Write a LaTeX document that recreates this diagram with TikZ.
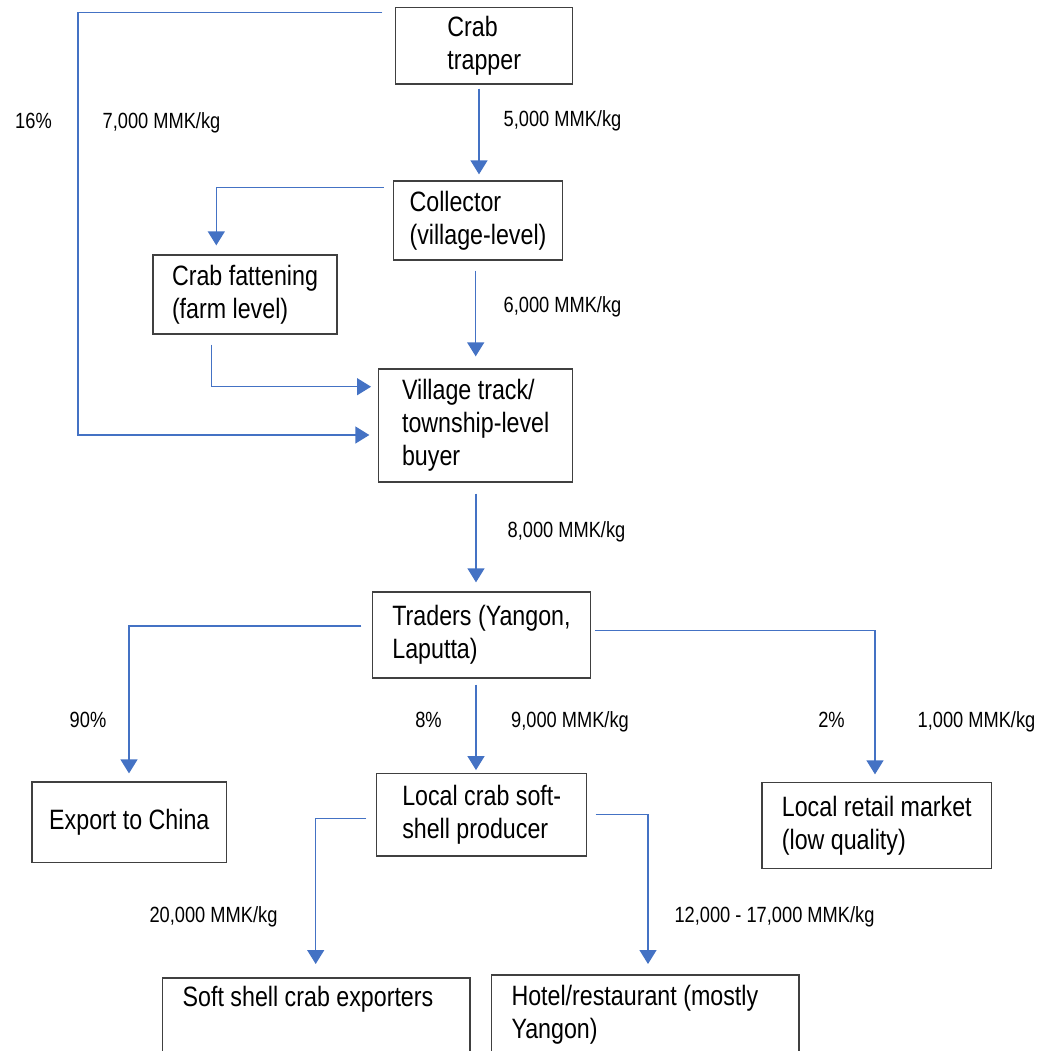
\documentclass[tikz,border=0pt]{standalone}
\usepackage{fontspec}
\setmainfont{Liberation Sans}[FakeStretch=0.83]
\usetikzlibrary{arrows.meta,calc}

\definecolor{flowblue}{HTML}{4472C4}
\definecolor{boxline}{HTML}{404040}
\newcommand\pxu{0.75pt}

\tikzset{
  x=0.75pt, y=-0.75pt,
  box/.style={draw=boxline, line width=1.3*\pxu, rectangle, align=left,
    inner sep=0pt, font=\fontsize{21}{24.75}\selectfont},
  toptext/.style={box, anchor=north, align=flush left, inner xsep=20*\pxu},
  price/.style={anchor=mid, inner sep=0pt, font=\fontsize{16.5}{19.8}\selectfont},
  conn/.style={draw=flowblue, line width=1.3*\pxu,
    -{Triangle[width=17*\pxu, length=14*\pxu]}, fill=none},
}

\begin{document}
\begin{tikzpicture}
\useasboundingbox (0,0) rectangle (1039,1051);

% actors in the crab value chain
\node[box, minimum width=177*\pxu, minimum height=76.7*\pxu] (trapper) at (484.2,45.6) {Crab\\trapper};
\node[box, minimum width=169.4*\pxu, minimum height=79*\pxu] (collector) at (478,220.5) {Collector\\(village-level)};
\node[box, minimum width=184*\pxu, minimum height=79*\pxu] (fatten) at (245,294.5) {Crab fattening\\(farm level)};
\node[box, minimum width=194*\pxu, minimum height=113*\pxu] (village) at (475.7,425.5) {Village track/\\township-level\\buyer};
\node[box, minimum width=217.5*\pxu, minimum height=86*\pxu] (traders) at (481.5,635) {Traders (Yangon,\\Laputta)};
\node[box, minimum width=194.7*\pxu, minimum height=80.3*\pxu] (export) at (129.3,822.2) {Export to China};
\node[box, minimum width=210*\pxu, minimum height=82.7*\pxu] (producer) at (481.7,814.7) {Local crab soft-\\shell producer};
\node[box, minimum width=229.7*\pxu, minimum height=86*\pxu] (retail) at (876.8,825.3) {Local retail market\\(low quality)};
\node[toptext, text width=267.3*\pxu, minimum height=80*\pxu] (softexp) at (316.35,977.3) {Soft shell crab exporters\\\strut};
\node[toptext, text width=267.5*\pxu, minimum height=80*\pxu] (hotel) at (645.25,974.3) {Hotel/restaurant (mostly\\Yangon)};

% flows between actors
\coordinate (loopSW) at (78,435);
\draw[conn] ($(trapper.north west)+(-12.7,5.7)$) -| (loopSW) -- ($(village.west)+(-8.7,9.5)$);
\draw[conn] ($(trapper.south)+(-5.2,4)$) -- ($(trapper.south |- collector.north)+(-5.2,-6)$);
\draw[conn] ($(collector.north west)+(-9,7.3)$) -| ($(fatten.north)+(-28.7,-9)$);
\draw[conn] ($(collector.south)+(-2.3,10)$) -- ($(collector.south |- village.north)+(-2.3,-12)$);
\draw[conn] ($(fatten.south)+(-33.3,10)$) |- ($(village.west)+(-7,-38.8)$);
\draw[conn] ($(village.south)+(0.3,11)$) -- ($(village.south |- traders.north)+(0.3,-9)$);
\draw[conn] ($(traders.west)+(-10.7,-9)$) -| ($(export.north)+(-0.3,-8)$);
\draw[conn] ($(traders.east)+(4,-4.3)$) -| ($(retail.north)+(-1.8,-7.3)$);
\draw[conn] ($(traders.south)+(-5.5,6)$) -- ($(traders.south |- producer.north)+(-5.5,-2.6)$);
\draw[conn] ($(producer.west)+(-10,4)$) -| ($(softexp.north)+(-0.65,-13.3)$);
\draw[conn] ($(producer.east)+(8.3,-0.4)$) -| ($(hotel.north)+(2.75,-10.3)$);

% shares and prices
\node[price] (p16) at (33.5,125) {16\%};
\node[price] (p7000) at (161.5,125) {7,000 MMK/kg};
\node[price] (p5000) at (562.5,123) {5,000 MMK/kg};
\node[price] (p6000) at (562.5,308.5) {6,000 MMK/kg};
\node[price] (p8000) at (566.5,534) {8,000 MMK/kg};
\node[price] (p90) at (88,723.7) {90\%};
\node[price] (p8) at (428.5,723.7) {8\%};
\node[price] (p9000) at (570,723.5) {9,000 MMK/kg};
\node[price] (p2) at (831.5,724) {2\%};
\node[price] (p1000) at (976.5,724) {1,000 MMK/kg};
\node[price] (p20000) at (213.5,919) {20,000 MMK/kg};
\node[price] (p12000) at (774.5,919) {12,000 - 17,000 MMK/kg};
\end{tikzpicture}
\end{document}
